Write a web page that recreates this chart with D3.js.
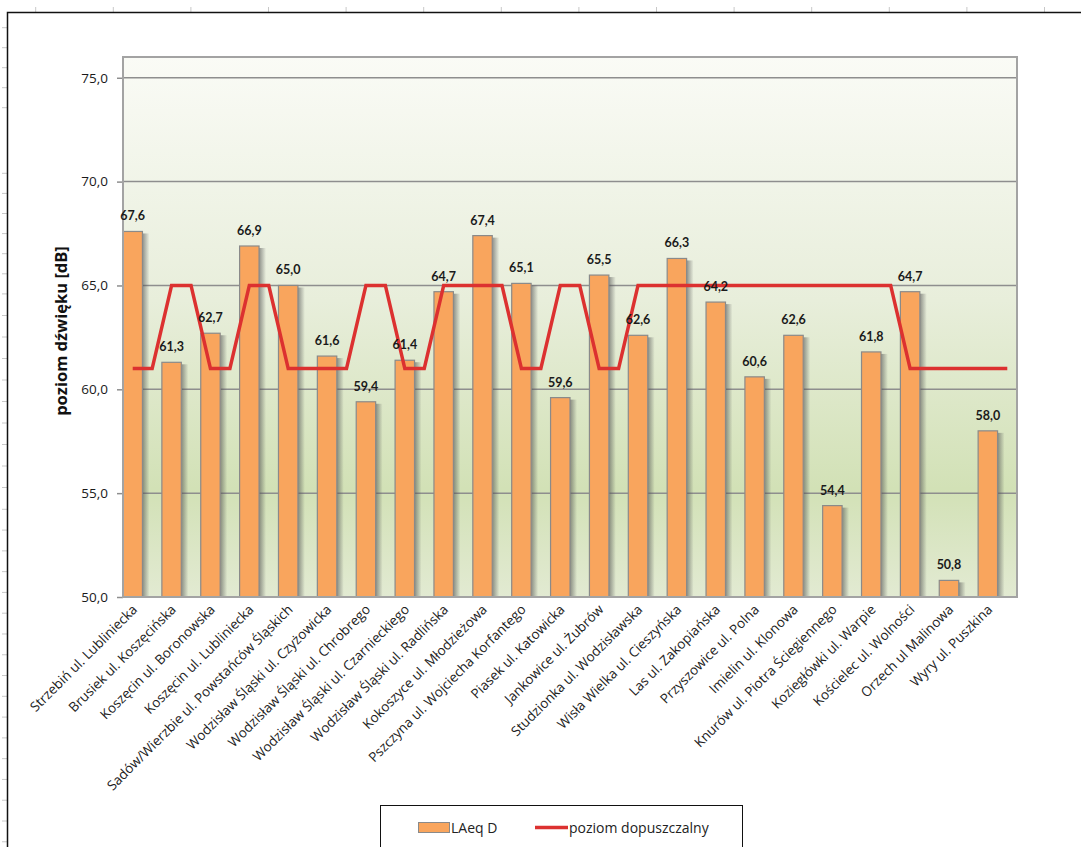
<!DOCTYPE html>
<html>
<head>
<meta charset="utf-8">
<script src="https://cdn.jsdelivr.net/npm/d3@7/dist/d3.min.js"></script>
<style>
  html, body { margin: 0; padding: 0; background: #fff; }
  svg { display: block; font-family: "Open Sans", Lato, sans-serif; }
</style>
</head>
<body>
<svg id="chart" width="1081" height="847"></svg>
<script>
// Measurement points
const categories = [
  "Strzebiń ul. Lubliniecka",
  "Brusiek ul. Koszęcińska",
  "Koszęcin ul. Boronowska",
  "Koszęcin ul. Lubliniecka",
  "Sadów/Wierzbie ul. Powstańców Śląskich",
  "Wodzisław Śląski ul. Czyżowicka",
  "Wodzisław Śląski ul. Chrobrego",
  "Wodzisław Śląski ul. Czarnieckiego",
  "Wodzisław Śląski ul. Radlińska",
  "Kokoszyce ul. Młodzieżowa",
  "Pszczyna ul. Wojciecha Korfantego",
  "Piasek ul. Katowicka",
  "Jankowice ul. Żubrów",
  "Studzionka ul. Wodzisławska",
  "Wisła Wielka ul. Cieszyńska",
  "Las ul. Zakopiańska",
  "Przyszowice ul. Polna",
  "Imielin ul. Klonowa",
  "Knurów ul. Piotra Ściegiennego",
  "Koziegłówki ul. Warpie",
  "Kościelec ul. Wolności",
  "Orzech ul Malinowa",
  "Wyry ul. Puszkina"
];

// Measured day-time equivalent level LAeq D [dB]
const laeqD = [67.6, 61.3, 62.7, 66.9, 65.0, 61.6, 59.4, 61.4, 64.7, 67.4, 65.1, 59.6,
               65.5, 62.6, 66.3, 64.2, 60.6, 62.6, 54.4, 61.8, 64.7, 50.8, 58.0];

// Permissible level [dB]
const limit = [61, 65, 61, 65, 61, 61, 65, 61, 65, 65, 61, 65,
               61, 65, 65, 65, 65, 65, 65, 65, 61, 61, 61];

const yTicks = [50, 55, 60, 65, 70, 75];
const yDomain = [50, 76];

const seriesNames = ["LAeq D", "poziom dopuszczalny"];

const svg = d3.select("#chart");
const W = 1081, H = 847;
const plot = { left: 123, top: 57, right: 1017, bottom: 597 };

const fmt = d3.formatLocale({ decimal: ",", thousands: " ", grouping: [3], currency: ["", ""] }).format(".1f");

const x = d3.scaleBand().domain(categories).range([plot.left, plot.right]).padding(0);
const y = d3.scaleLinear().domain(yDomain).range([plot.bottom, plot.top]);
const bw = x.bandwidth();

const defs = svg.append("defs");

// plot area fill
const bg = defs.append("linearGradient").attr("id", "bg").attr("x1", 0).attr("y1", 0).attr("x2", 0).attr("y2", 1);
[["0%", "#fafbf6"], ["45%", "#e8eedb"], ["80%", "#d2e1b6"], ["100%", "#e2ead2"]]
  .forEach(([o, c]) => bg.append("stop").attr("offset", o).attr("stop-color", c));

// bar drop shadow
const sh = defs.append("linearGradient").attr("id", "shadow").attr("x1", 0).attr("y1", 0).attr("x2", 1).attr("y2", 0);
sh.append("stop").attr("offset", "0%").attr("stop-color", "#505050").attr("stop-opacity", 0.6);
sh.append("stop").attr("offset", "100%").attr("stop-color", "#505050").attr("stop-opacity", 0);

// sheet ruler marks around the outer frame
const ruler = svg.append("g").attr("stroke", "#c8c8c8").attr("stroke-width", 1);
d3.range(0, 14).forEach(k => {
  const xx = 35.7 + k * 77.6;
  ruler.append("line").attr("x1", xx).attr("x2", xx).attr("y1", 7).attr("y2", 12);
});
const rowMarks = [].concat(
  d3.range(0, 5).map(k => 27.7 + k * 20),
  d3.range(0, 7).map(k => 173.3 + k * 20.1),
  d3.range(1, 10).map(k => 294 + k * 21.5),
  d3.range(0, 17).map(k => 509.3 + k * 20.78)
);
rowMarks.forEach(yy => ruler.append("line").attr("x1", 2).attr("x2", 7).attr("y1", yy).attr("y2", yy));

// outer chart frame
svg.append("path")
  .attr("d", `M7.5,${H + 2} V12.5 H${W + 2}`)
  .attr("fill", "none").attr("stroke", "#111").attr("stroke-width", 1.5);

// plot area
svg.append("rect")
  .attr("x", plot.left).attr("y", plot.top)
  .attr("width", plot.right - plot.left).attr("height", plot.bottom - plot.top)
  .attr("fill", "url(#bg)");

// gridlines
svg.append("g").selectAll("line").data(yTicks.filter(d => d > yDomain[0])).join("line")
  .attr("x1", plot.left).attr("x2", plot.right)
  .attr("y1", d => y(d)).attr("y2", d => y(d))
  .attr("stroke", "#8e8e8e").attr("stroke-width", 1.5);

// y axis
const yAxis = svg.append("g")
  .attr("transform", `translate(${plot.left},0)`)
  .call(d3.axisLeft(y).tickValues(yTicks).tickFormat(fmt).tickSize(6).tickPadding(9));
yAxis.select(".domain").remove();
yAxis.selectAll(".tick line").attr("stroke", "#8e8e8e").attr("stroke-width", 1.5);
yAxis.selectAll(".tick text").attr("font-size", 13.5).attr("fill", "#1a1a1a")
  .attr("font-family", "'Open Sans', sans-serif");

// y axis title
svg.append("text")
  .attr("transform", `translate(67,${(plot.top + plot.bottom) / 2 + 4}) rotate(-90)`)
  .attr("text-anchor", "middle")
  .attr("font-size", 16.5).attr("font-weight", "bold").attr("fill", "#111")
  .text("poziom dźwięku [dB]");

// bars
const bars = svg.append("g");
bars.selectAll("rect.sh").data(laeqD).join("rect")
  .attr("class", "sh")
  .attr("x", (d, i) => x(categories[i]) + bw / 2)
  .attr("y", d => y(d) + 2)
  .attr("width", 7)
  .attr("height", d => plot.bottom - y(d) - 2)
  .attr("fill", "url(#shadow)");
bars.selectAll("rect.bar").data(laeqD).join("rect")
  .attr("class", "bar")
  .attr("x", (d, i) => x(categories[i]))
  .attr("y", d => y(d))
  .attr("width", bw / 2)
  .attr("height", d => plot.bottom - y(d))
  .attr("fill", "#f9a55d")
  .attr("stroke", "#8a8a8a").attr("stroke-width", 1.2);

// plot border
svg.append("rect")
  .attr("x", plot.left).attr("y", plot.top)
  .attr("width", plot.right - plot.left).attr("height", plot.bottom - plot.top)
  .attr("fill", "none").attr("stroke", "#a3a3a3").attr("stroke-width", 2);

// permissible level line: a flat step over each category joined by slopes
const linePts = [];
limit.forEach((v, i) => {
  const x0 = x(categories[i]);
  linePts.push([x0 + bw * 0.25, y(v)]);
  linePts.push([x0 + bw * 0.75, y(v)]);
});
svg.append("path")
  .attr("d", d3.line()(linePts))
  .attr("fill", "none").attr("stroke", "#dc3130").attr("stroke-width", 3.5)
  .attr("stroke-linejoin", "miter");

// value labels
svg.append("g").selectAll("text").data(laeqD).join("text")
  .attr("x", (d, i) => x(categories[i]) + bw / 4)
  .attr("y", d => y(d) - 11)
  .attr("text-anchor", "middle")
  .attr("font-family", "Lato, sans-serif")
  .attr("font-size", 12.5).attr("font-weight", "bold").attr("fill", "#1a1a1a")
  .text(d => fmt(d));

// category labels
svg.append("g").selectAll("text").data(categories).join("text")
  .attr("transform", d => `translate(${x(d) + bw / 4 + 2},${plot.bottom + 10}) rotate(-45)`)
  .attr("text-anchor", "end")
  .attr("dy", "0.35em")
  .attr("font-size", 13.5).attr("fill", "#222")
  .text(d => d);

// legend
const lg = svg.append("g");
lg.append("rect").attr("x", 380.5).attr("y", 805.5).attr("width", 362).attr("height", 60)
  .attr("fill", "#fff").attr("stroke", "#111").attr("stroke-width", 1);
lg.append("rect").attr("x", 418.5).attr("y", 822.5).attr("width", 31).attr("height", 10)
  .attr("fill", "#f9a55d").attr("stroke", "#8a8a8a").attr("stroke-width", 1);
lg.append("text").attr("x", 451).attr("y", 832.5).attr("font-size", 14).attr("fill", "#222").text(seriesNames[0]);
lg.append("line").attr("x1", 535).attr("x2", 568).attr("y1", 827.5).attr("y2", 827.5)
  .attr("stroke", "#dc3130").attr("stroke-width", 3.5);
lg.append("text").attr("x", 569).attr("y", 832.5).attr("font-size", 14).attr("fill", "#222").text(seriesNames[1]);
</script>
</body>
</html>
